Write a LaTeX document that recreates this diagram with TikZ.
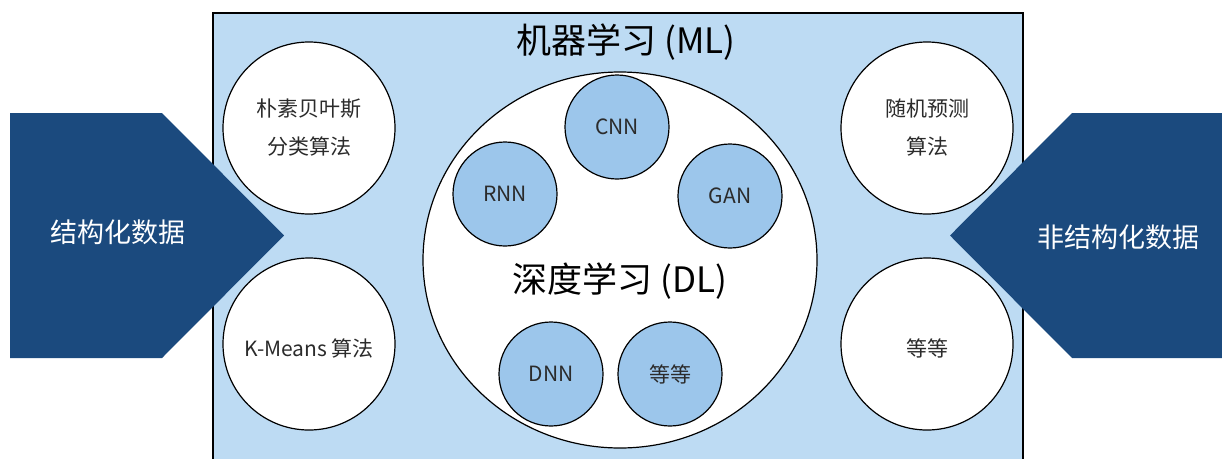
\documentclass[tikz,border=0pt]{standalone}
\usepackage{fontspec}
\setmainfont{Noto Sans CJK SC}
\usetikzlibrary{shapes.geometric}
\definecolor{bgblue}{HTML}{BDDBF3}
\definecolor{inblue}{HTML}{9CC6EB}
\definecolor{darkblue}{HTML}{1B4A7E}
\definecolor{txt}{HTML}{2B2B2B}
\begin{document}
\begin{tikzpicture}[x=1pt,y=-1pt,
  mlcircle/.style={circle, draw=black, line width=1.2pt, fill=white, minimum size=172pt, inner sep=0pt, align=center, text=txt, font=\fontsize{21}{38}\selectfont},
  lowtext/.style={text height=30pt, text depth=5pt},
  dlcircle/.style={circle, draw=black, line width=1.2pt, fill=inblue, minimum size=104pt, inner sep=0pt, text=txt, font=\fontsize{21}{24}\selectfont},
  bigtitle/.style={text=black, font=\fontsize{35}{40}\selectfont, inner sep=0pt},
  arrowtext/.style={text=white, font=\fontsize{27}{30}\selectfont, inner sep=0pt},
  arrowshape/.style={fill=darkblue}]
\useasboundingbox (0,0) rectangle (1222,458);
\node[draw=black, line width=1.5pt, fill=bgblue, minimum width=810pt, minimum height=470pt, anchor=north west, inner sep=0pt] (ml) at (212,12) {};
\node[bigtitle] (mltitle) at (626,42) {机器学习 (ML)};
\node[mlcircle] (nb) at (309,128) {朴素贝叶斯\\分类算法};
\node[mlcircle, lowtext] (km) at (309,344) {K-Means 算法};
\node[mlcircle] (rf) at (927,128) {随机预测\\算法};
\node[mlcircle, lowtext] (etc1) at (927,344) {等等};
\node[ellipse, draw=black, line width=1.2pt, fill=white, minimum width=394pt, minimum height=376pt, inner sep=0pt] (dl) at (620,260) {};
\node[bigtitle] (dltitle) at (620,281) {深度学习 (DL)};
\node[dlcircle] (cnn) at (617,127) {CNN};
\node[dlcircle] (rnn) at (505,194) {RNN};
\node[dlcircle] (gan) at (730,196) {GAN};
\node[dlcircle] (dnn) at (551,374) {DNN};
\node[dlcircle] (etc2) at (670,374) {等等};
\fill[arrowshape] (10,113) -- (162,113) -- (284,235.5) -- (162,358) -- (10,358) -- cycle;
\node[arrowtext] (sd) at (118,232) {结构化数据};
\fill[arrowshape] (1222,113) -- (1072,113) -- (950,235.5) -- (1072,358) -- (1222,358) -- cycle;
\node[arrowtext] (usd) at (1118,237) {非结构化数据};
\end{tikzpicture}
\end{document}
